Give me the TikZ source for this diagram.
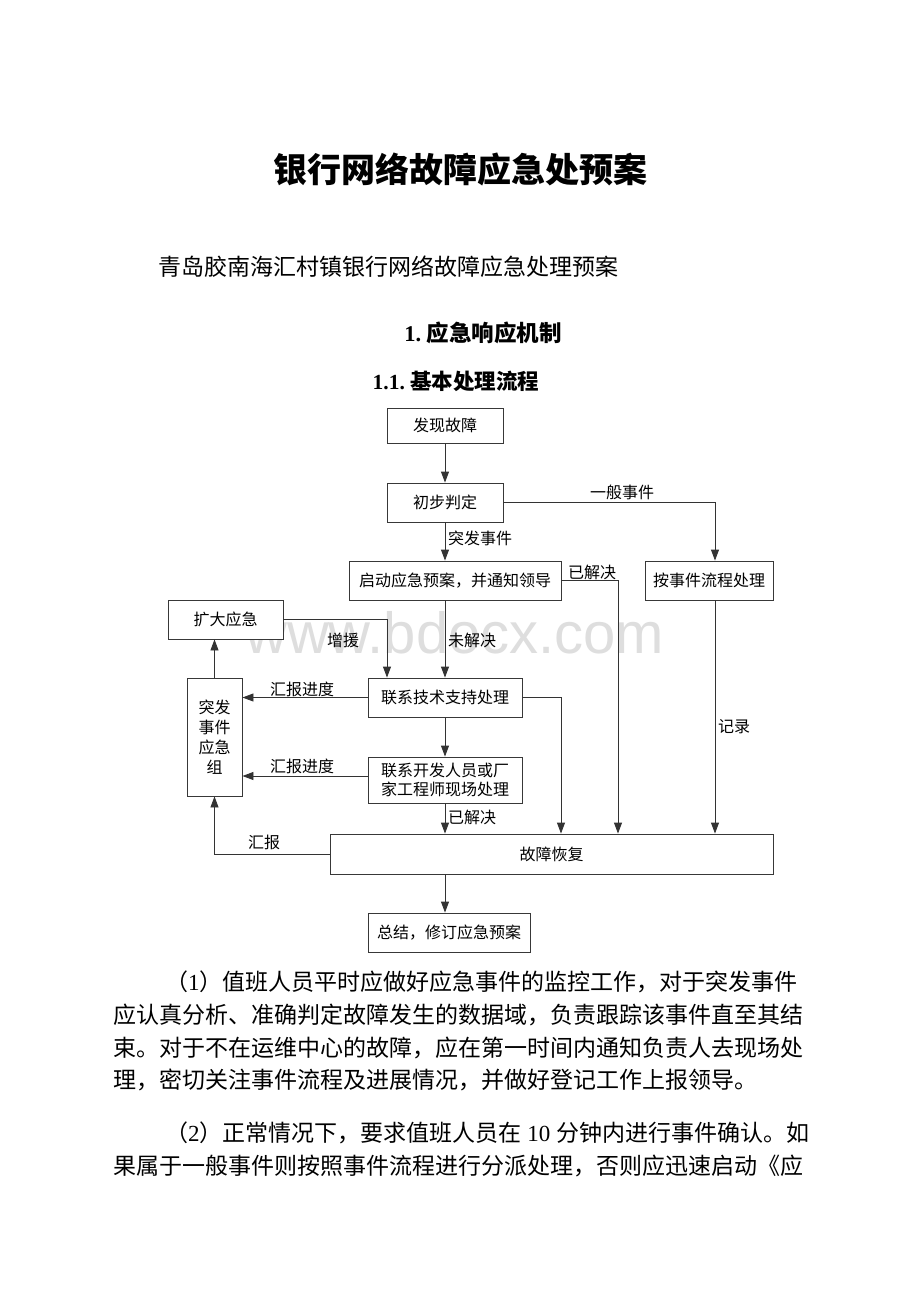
\documentclass[tikz,border=0pt]{standalone}
\usepackage{fontspec}
\setmainfont{Liberation Serif}
\newfontfamily\song{Noto Sans CJK SC}
\newfontfamily\hei{Noto Sans CJK SC}
\newfontfamily\wmfont{Liberation Sans}
\usetikzlibrary{arrows.meta}
\newcommand{\tnr}[1]{{\rmfamily #1}}
\begin{document}
\begin{tikzpicture}[x=1pt,y=-1pt,
  box/.style={draw=black!78, line width=0.9pt, fill=white, inner sep=0pt, align=center,
    font=\song\fontsize{16}{20}\selectfont},
  arr/.style={draw=black!80, line width=0.9pt, -{Triangle[length=11pt,width=8pt]}},
  lbl/.style={inner sep=0pt, font=\song\fontsize{16}{20}\selectfont},
  para/.style={inner sep=0pt, anchor=west, font=\song\fontsize{23}{28}\selectfont},
]
\useasboundingbox (0,0) rectangle (920,1302);
\fill[white] (0,0) rectangle (920,1302);

% title and headings
\node[inner sep=0pt] (title) at (460,170) {\hei\bfseries\fontsize{34}{40}\selectfont 银行网络故障应急处预案};
\node[inner sep=0pt, anchor=west] (sub) at (158,267) {\song\fontsize{23}{28}\selectfont 青岛胶南海汇村镇银行网络故障应急处理预案};
\node[inner sep=0pt] (h1) at (483,333) {\bfseries\fontsize{22.5}{26}\selectfont 1.\ {\hei 应急响应机制}};
\node[inner sep=0pt] (h2) at (456,381) {\bfseries\fontsize{21.5}{26}\selectfont 1.1.\ {\hei 基本处理流程}};

% watermark
\node[inner sep=0pt, anchor=base west, text=black!13] (wm) at (245,653) {\wmfont\fontsize{58}{60}\selectfont www.bdocx.com};

% boxes
\node[box, minimum width=116pt, minimum height=35pt] (fx) at (445,425.5) {发现故障};
\node[box, minimum width=116pt, minimum height=39pt] (cb) at (445,502.5) {初步判定};
\node[box, minimum width=212pt, minimum height=39pt] (qd) at (455,580.5) {启动应急预案，并通知领导};
\node[box, minimum width=128pt, minimum height=39pt] (aj) at (709,580.5) {按事件流程处理};
\node[box, minimum width=115pt, minimum height=39pt] (kd) at (225.5,619.5) {扩大应急};
\node[box, minimum width=154pt, minimum height=39pt] (js) at (445,697.5) {联系技术支持处理};
\node[box, minimum width=55pt, minimum height=118pt] (tf) at (214.5,737) {突发\\事件\\应急\\组};
\node[box, minimum width=154pt, minimum height=46pt, font=\song\fontsize{16}{19.5}\selectfont] (kf) at (445,780) {联系开发人员或厂\\家工程师现场处理};
\node[box, minimum width=443pt, minimum height=40pt] (gz) at (551.5,854) {故障恢复};
\node[box, minimum width=162pt, minimum height=39pt] (zj) at (449,932.5) {总结，修订应急预案};

% connectors
\draw[arr] (fx) -- (cb);
\draw[arr] (cb.south) -- (cb.south |- qd.north);
\draw[arr] (cb.east) -| ([xshift=6pt]aj.north);
\draw[arr] (qd.east) -| ([xshift=66.5pt]gz.north);
\draw[arr] ([xshift=6pt]aj.south) -- ([xshift=6pt]aj.south |- gz.north);
\draw[arr] (cb.south |- qd.south) -- (js.north);
\draw[arr] (kd.east) -| ([xshift=-58pt]js.north);
\draw[arr] (js.west) -- (js.west -| tf.east);
\draw[arr] (js.east) -| ([xshift=9.5pt]gz.north);
\draw[arr] (js) -- (kf);
\draw[arr] ([yshift=4pt]kf.west) -- ([yshift=4pt]kf.west -| tf.east);
\draw[arr] (kf.south) -- (kf.south |- gz.north);
\draw[arr] (gz.west) -| (tf.south);
\draw[arr] (tf.north) -- (tf.north |- kd.south);
\draw[arr] (kf.south |- gz.south) -- (kf.south |- zj.north);

% labels
\node[lbl] (l1) at (622,492) {一般事件};
\node[lbl] (l2) at (480,538) {突发事件};
\node[lbl] (l3) at (592,572) {已解决};
\node[lbl] (l4) at (472,640) {未解决};
\node[lbl] (l5) at (343,640) {增援};
\node[lbl] (l6) at (302,689) {汇报进度};
\node[lbl] (l7) at (302,766) {汇报进度};
\node[lbl] (l8) at (472,817) {已解决};
\node[lbl] (l9) at (264,842) {汇报};
\node[lbl] (l10) at (734,727) {记录};

% paragraphs
\node[para] (p1) at (165,982) {（\tnr{1}）值班人员平时应做好应急事件的监控工作，对于突发事件};
\node[para] (p2) at (113,1015) {应认真分析、准确判定故障发生的数据域，负责跟踪该事件直至其结};
\node[para] (p3) at (113,1048) {束。对于不在运维中心的故障，应在第一时间内通知负责人去现场处};
\node[para] (p4) at (113,1080) {理，密切关注事件流程及进展情况，并做好登记工作上报领导。};
\node[para] (p5) at (165,1133) {（\tnr{2}）正常情况下，要求值班人员在\tnr{ 10 }分钟内进行事件确认。如};
\node[para] (p6) at (113,1166) {果属于一般事件则按照事件流程进行分派处理，否则应迅速启动《应};
\end{tikzpicture}
\end{document}
